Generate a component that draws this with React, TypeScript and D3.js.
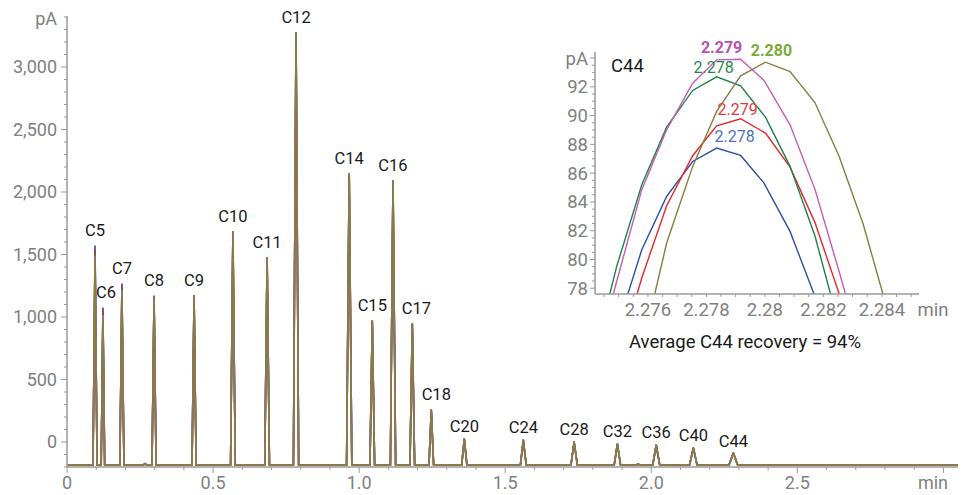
import React from 'react';
import * as d3 from 'd3';

// main chromatogram: peak table (olive trace is the top-most drawn)
const peakNames = ['C5', 'C6', 'C7', 'C8', 'C9', 'C10', 'C11', 'C12', 'C14', 'C15', 'C16', 'C17', 'C18', 'C20', 'C24', 'C28', 'C32', 'C36', 'C40', 'C44'];
const peakTimes = [0.096, 0.123, 0.188, 0.298, 0.435, 0.568, 0.685, 0.784, 0.966, 1.045, 1.116, 1.182, 1.247, 1.36, 1.562, 1.736, 1.884, 2.017, 2.144, 2.281];
const peakHeights = [1472, 992, 1192, 1152, 1168, 1680, 1472, 3272, 2144, 968, 2088, 944, 256, 24, 16, 0, -16, -24, -48, -88];
const peakHalfWidths = [0.007, 0.006, 0.007, 0.007, 0.007, 0.008, 0.008, 0.009, 0.009, 0.008, 0.009, 0.008, 0.008, 0.009, 0.01, 0.011, 0.011, 0.012, 0.013, 0.015];

// the light compounds differ between runs (C5..C8)
const blueFront = [1568, 1072, 1264, 1168];
const redFront = [1536, 1052, 1246, 1162];
const greenFront = [1512, 1032, 1228, 1158];
const magentaFront = [1488, 1012, 1210, 1155];

const minorTimes = [0.267, 1.955];
const minorHeights = [-172, -176];
const baselineLevel = -185;

// inset: C44 apex, [min, pA]
const insetBlue = [[2.27493, 75.13], [2.27579, 80.68], [2.27664, 84.38], [2.27753, 86.81], [2.27835, 87.74], [2.27917, 87.23], [2.27997, 85.31], [2.28086, 81.95], [2.28171, 77.44], [2.28257, 72.81]];
const insetRed = [[2.27493, 72.81], [2.27579, 78.71], [2.27664, 83.74], [2.27753, 87.21], [2.27835, 89.29], [2.27917, 89.78], [2.28002, 88.78], [2.28086, 86.42], [2.28171, 82.58], [2.28257, 77.44], [2.28342, 71.65]];
const insetGreen = [[2.27408, 72.58], [2.27493, 79.5], [2.27579, 85.19], [2.27664, 89.2], [2.27753, 91.75], [2.27835, 92.69], [2.27917, 92.07], [2.28002, 89.89], [2.28086, 86.47], [2.28171, 81.65], [2.28257, 75.13]];
const insetMagenta = [[2.27402, 71.65], [2.27487, 78.02], [2.27579, 84.85], [2.27664, 89.01], [2.27753, 92.25], [2.27835, 93.875], [2.27917, 93.92], [2.27997, 92.44], [2.28086, 89.36], [2.28171, 84.89], [2.28257, 78.94], [2.28342, 72.81]];
const insetOlive = [[2.27579, 73.74], [2.27664, 81.14], [2.27753, 86.47], [2.27835, 90.29], [2.27917, 92.76], [2.28002, 93.71], [2.28086, 93.06], [2.28171, 90.91], [2.28254, 87.16], [2.28336, 82.46], [2.28422, 76.28]];
const insetApexLabels = ['2.278', '2.279', '2.278', '2.279', '2.280'];

const mainTicks = [0, 0.5, 1.0, 1.5, 2.0, 2.5];
const mainTickLabels = ['0', '0.5', '1.0', '1.5', '2.0', '2.5'];
const yTicks = [0, 500, 1000, 1500, 2000, 2500, 3000];
const insetXTicks = [2.276, 2.278, 2.28, 2.282, 2.284];
const insetYTicks = [78, 80, 82, 84, 86, 88, 90, 92];

const FONT = 'Roboto, sans-serif';
const AXIS = '#9a9a9a';
const TICKTXT = '#808080';

const runs = [
  { name: 'blue', color: '#2d4fa5', label: '#4a72c4', front: blueFront, inset: insetBlue, bold: false, dx: 18, dy: -6 },
  { name: 'red', color: '#e8262a', label: '#e0393c', front: redFront, inset: insetRed, bold: false, dx: -3, dy: -4 },
  { name: 'green', color: '#1b8447', label: '#1e8a50', front: greenFront, inset: insetGreen, bold: false, dx: -3, dy: -4 },
  { name: 'magenta', color: '#c55bb5', label: '#c04fa8', front: magentaFront, inset: insetMagenta, bold: true, dx: -19, dy: -6 },
  { name: 'olive', color: '#877d3f', label: '#7aab3a', front: [] as number[], inset: insetOlive, bold: true, dx: 6, dy: -6 },
];

// label placement tweaks (px)
const labelNudge: Record<string, number> = { C6: 3, C17: 4, C18: 5 };
const labelDrop: Record<string, number> = { C20: 3, C24: 3, C28: 3, C32: 3, C36: 3, C40: 3, C44: 4 };

function tracePoints(front: number[]): [number, number][] {
  const pk = peakTimes.map((t, i) => ({ t, h: i < front.length ? front[i] : peakHeights[i], w: peakHalfWidths[i] }));
  minorTimes.forEach((t, i) => pk.push({ t, h: minorHeights[i], w: 0.006 }));
  pk.sort((a, b) => a.t - b.t);
  const pts: [number, number][] = [[0, baselineLevel]];
  pk.forEach(p => {
    pts.push([p.t - p.w, baselineLevel]);
    pts.push([p.t, p.h]);
    pts.push([p.t + p.w, baselineLevel]);
  });
  pts.push([3.05, baselineLevel]);
  return pts;
}

export default function App() {
  const x = d3.scaleLinear().domain([0, 3.05]).range([67, 958]);
  const y = d3.scaleLinear().domain([-200, 3400]).range([467, 17]);
  const xi = d3.scaleLinear().domain([2.27419, 2.28527]).range([595, 919]);
  const yi = d3.scaleLinear().domain([77.6, 94.35]).range([294, 53]);

  const line = d3.line<[number, number]>().x(d => x(d[0])).y(d => y(d[1]));
  const iline = d3.line<number[]>().x(d => xi(d[0])).y(d => yi(d[1]));

  const xMinor = d3.range(0, 3.001, 0.1);
  const yMinor = d3.range(-200, 3401, 100);
  const ixMinor = d3.range(2.2745, 2.2852, 0.0005);
  const iyMinor = d3.range(78, 94.01, 0.5);
  const fmt = d3.format(',');

  return (
    <div style={{ position: 'absolute', left: 0, top: 0 }}>
      <svg width={964} height={495} style={{ display: 'block', fontFamily: FONT }}>
        <defs>
          <clipPath id="insetClip">
            <rect x={596} y={40} width={323} height={254} />
          </clipPath>
        </defs>

        {/* main traces */}
        {runs.map(r => (
          <path key={r.name} d={line(tracePoints(r.front)) || ''} fill="none" stroke={r.color} strokeWidth={1.6} strokeLinejoin="round" />
        ))}

        {/* main axes */}
        <line x1={67} x2={67} y1={16} y2={467} stroke={AXIS} strokeWidth={1.5} />
        <line x1={67} x2={958} y1={467} y2={467} stroke={AXIS} strokeWidth={1.5} />
        {yMinor.map(v => (
          <line key={'ym' + v} x1={67} x2={v % 500 === 0 ? 61 : 64} y1={y(v)} y2={y(v)} stroke={AXIS} strokeWidth={1} />
        ))}
        {xMinor.map(v => (
          <line key={'xm' + v} x1={x(v)} x2={x(v)} y1={467} y2={Math.abs(v * 2 - Math.round(v * 2)) < 1e-6 ? 473 : 470} stroke={AXIS} strokeWidth={1} />
        ))}
        {yTicks.map(v => (
          <text key={'yt' + v} x={57} y={y(v)} dy="0.35em" textAnchor="end" fontSize={18} fill={TICKTXT}>{fmt(v)}</text>
        ))}
        <text x={57} y={19} dy="0.35em" textAnchor="end" fontSize={18} fill={TICKTXT}>pA</text>
        {mainTicks.map((v, i) => (
          <text key={'xt' + v} x={x(v)} y={483} dy="0.35em" textAnchor="middle" fontSize={18} fill={TICKTXT}>{mainTickLabels[i]}</text>
        ))}
        <text x={933} y={483} dy="0.35em" textAnchor="middle" fontSize={18} fill={TICKTXT}>min</text>

        {/* peak labels */}
        {peakNames.map((n, i) => {
          const top = i < blueFront.length ? blueFront[i] : peakHeights[i];
          return (
            <text key={n} x={x(peakTimes[i]) + (labelNudge[n] || 0)} y={y(top) - 10 + (labelDrop[n] || 0)} textAnchor="middle" fontSize={16.5} fill="#1a1a1a">{n}</text>
          );
        })}

        {/* inset */}
        <g clipPath="url(#insetClip)">
          {runs.map(r => (
            <path key={'i' + r.name} d={iline(r.inset) || ''} fill="none" stroke={r.color} strokeWidth={1.4} />
          ))}
        </g>
        {runs.map((r, k) => {
          const apex = r.inset.reduce((a, b) => (b[1] > a[1] ? b : a));
          return (
            <text key={'il' + r.name} x={xi(apex[0]) + r.dx} y={yi(apex[1]) + r.dy} textAnchor="middle" fontSize={16}
              fontWeight={r.bold ? 700 : 400} fill={r.label}>{insetApexLabels[k]}</text>
          );
        })}
        <line x1={595} x2={595} y1={52} y2={294} stroke={AXIS} strokeWidth={1.5} />
        <line x1={595} x2={919} y1={294} y2={294} stroke={AXIS} strokeWidth={1.5} />
        {iyMinor.map(v => (
          <line key={'iym' + v} x1={595} x2={v % 2 === 0 ? 590 : 592} y1={yi(v)} y2={yi(v)} stroke={AXIS} strokeWidth={1} />
        ))}
        {ixMinor.map(v => (
          <line key={'ixm' + v} x1={xi(v)} x2={xi(v)} y1={294} y2={297} stroke={AXIS} strokeWidth={1} />
        ))}
        {insetYTicks.map(v => (
          <text key={'iyt' + v} x={588} y={yi(v)} dy="0.35em" textAnchor="end" fontSize={18.5} fill={TICKTXT}>{v}</text>
        ))}
        <text x={588} y={59} dy="0.35em" textAnchor="end" fontSize={18.5} fill={TICKTXT}>pA</text>
        {insetXTicks.map(v => (
          <text key={'ixt' + v} x={xi(v)} y={310} dy="0.35em" textAnchor="middle" fontSize={18.5} fill={TICKTXT}>{d3.format('')(v)}</text>
        ))}
        <text x={933} y={310} dy="0.35em" textAnchor="middle" fontSize={18.5} fill={TICKTXT}>min</text>
        <text x={611} y={66} dy="0.35em" fontSize={18.5} fill="#1a1a1a">C44</text>
        <text x={745} y={342} dy="0.35em" textAnchor="middle" fontSize={18.5} fill="#1a1a1a">Average C44 recovery = 94%</text>
      </svg>
    </div>
  );
}
